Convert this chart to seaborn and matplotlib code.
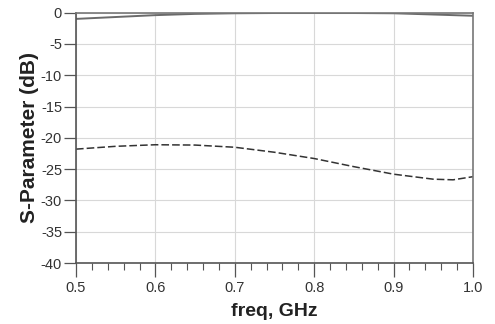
import numpy as np
import pandas as pd
import matplotlib
matplotlib.use("Agg")
import matplotlib.pyplot as plt
import seaborn as sns
from matplotlib.ticker import MultipleLocator

# values
freq = [0.50, 0.55, 0.60, 0.65, 0.70, 0.75, 0.80, 0.85, 0.90, 0.95, 0.975, 1.00]
s21 = [-1.0, -0.7, -0.4, -0.2, -0.1, -0.06, -0.05, -0.06, -0.1, -0.3, -0.4, -0.5]
s11 = [-21.8, -21.35, -21.1, -21.15, -21.5, -22.3, -23.3, -24.6, -25.8, -26.6, -26.7, -26.2]

x_ticks = [0.5, 0.6, 0.7, 0.8, 0.9, 1.0]
y_ticks = [0, -5, -10, -15, -20, -25, -30, -35, -40]

df = pd.DataFrame({"freq": freq, "S21": s21, "S11": s11})

sns.set_style("white")
plt.rcParams["font.family"] = ["Liberation Sans", "DejaVu Sans"]

fig = plt.figure(figsize=(4.95, 3.24), dpi=100)
ax = fig.add_axes([0.1535, 0.188, 0.802, 0.773])

sns.lineplot(data=df, x="freq", y="S21", ax=ax, color="#6a6a6a", linewidth=1.4)
sns.lineplot(data=df, x="freq", y="S11", ax=ax, color="#333333", linewidth=1.1,
             linestyle=(0, (5, 2)))

ax.set_xlim(0.5, 1.0)
ax.set_ylim(-40, 0)
ax.set_xticks(x_ticks)
ax.set_xticklabels([f"{t:.1f}" for t in x_ticks])
ax.set_yticks(y_ticks)
ax.set_yticklabels([str(t) for t in y_ticks])
ax.xaxis.set_minor_locator(MultipleLocator(0.02))

ax.grid(True, which="major", color="#d8d8d8", linewidth=0.8)
ax.tick_params(axis="both", which="major", direction="out", width=0.9,
               color="#555555", labelsize=10.5, labelcolor="#333333")
ax.tick_params(axis="x", which="major", length=10, pad=3, bottom=True)
ax.tick_params(axis="x", which="minor", direction="out", length=5, width=0.8,
               color="#555555", bottom=True)
ax.tick_params(axis="y", which="major", length=9, pad=1, left=True)

for side in ["left", "bottom"]:
    ax.spines[side].set_color("#555555")
    ax.spines[side].set_linewidth(1.2)
for side in ["top", "right"]:
    ax.spines[side].set_color("#777777")
    ax.spines[side].set_linewidth(1.2)

ax.set_xlabel("freq, GHz", fontsize=14, fontweight="bold", color="#222222", labelpad=6)
ax.set_ylabel("S-Parameter (dB)", fontsize=15, fontweight="bold", color="#222222", labelpad=1)

fig.savefig("out.png", dpi=100)
